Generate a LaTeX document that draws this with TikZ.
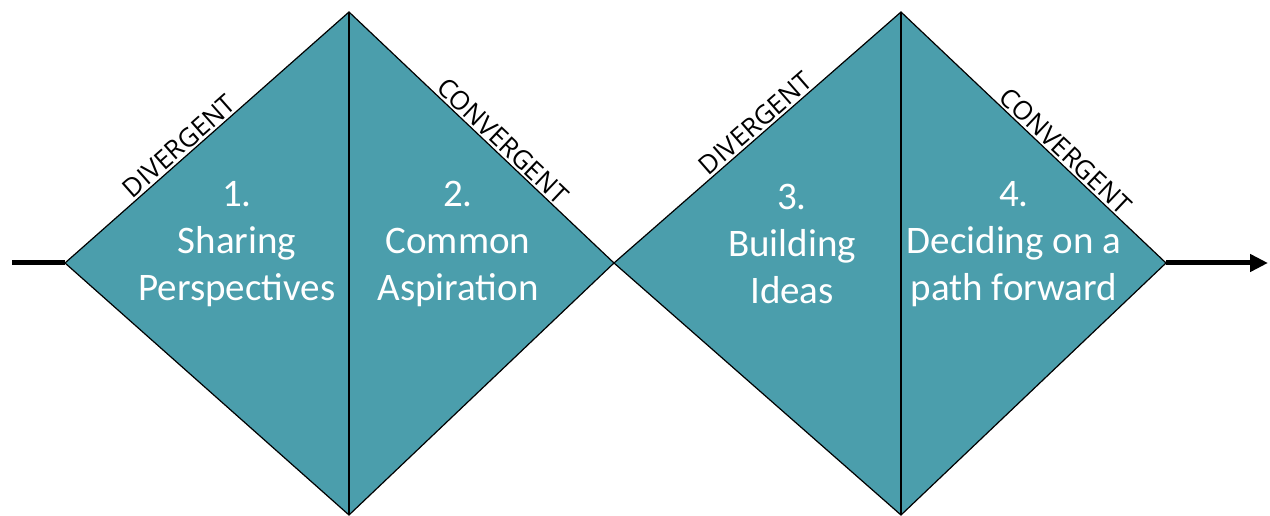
\documentclass[tikz,border=0pt]{standalone}
\usepackage{fontspec}
\setmainfont{Carlito}
\newfontfamily\edgefont{Open Sans}
\usetikzlibrary{arrows.meta}
\definecolor{diamondteal}{RGB}{75,158,172}

\begin{document}
\begin{tikzpicture}[x=1pt,y=1pt,line width=1.2pt,
  phase/.style={text=white,align=center,font=\fontsize{39}{47}\selectfont},
  mode/.style={sloped,above,inner sep=2pt,font=\edgefont\fontsize{26}{30}\selectfont}]
\useasboundingbox (0,0) rectangle (1270,515);
\coordinate (S) at (12,252);
\coordinate (L1) at (65,252);
\coordinate (T1) at (349,503);
\coordinate (B1) at (349,0);
\coordinate (M) at (614,252);
\coordinate (T2) at (901,503);
\coordinate (B2) at (901,0);
\coordinate (R2) at (1166,252);
\coordinate (E) at (1268,252);
\filldraw[fill=diamondteal] (L1)--(T1)--(M)--(B1)--cycle (M)--(T2)--(R2)--(B2)--cycle;
\draw (T1)--(B1) (T2)--(B2);
\draw[line width=5pt] (S)--(L1);
\draw[line width=5pt,-{Triangle[length=18pt,width=17pt]}] (R2)--(E);
% edge labels
\path (L1)--(T1) node[mode,pos=0.43] (d1) {DIVERGENT};
\path (T1)--(M) node[mode,pos=0.55] (c1) {CONVERGENT};
\path (M)--(T2) node[mode,pos=0.52] (d2) {DIVERGENT};
\path (T2)--(R2) node[mode,pos=0.59] (c2) {CONVERGENT};
% phases
\node[phase] (p1) at (237,271) {1.\\Sharing\\Perspectives};
\node[phase] (p2) at (458,271) {2.\\Common\\Aspiration};
\node[phase] (p3) at (792,271) {3.\\Building\\Ideas};
\node[phase] (p4) at (1014,271) {4.\\Deciding on a\\path forward};
\end{tikzpicture}
\end{document}
